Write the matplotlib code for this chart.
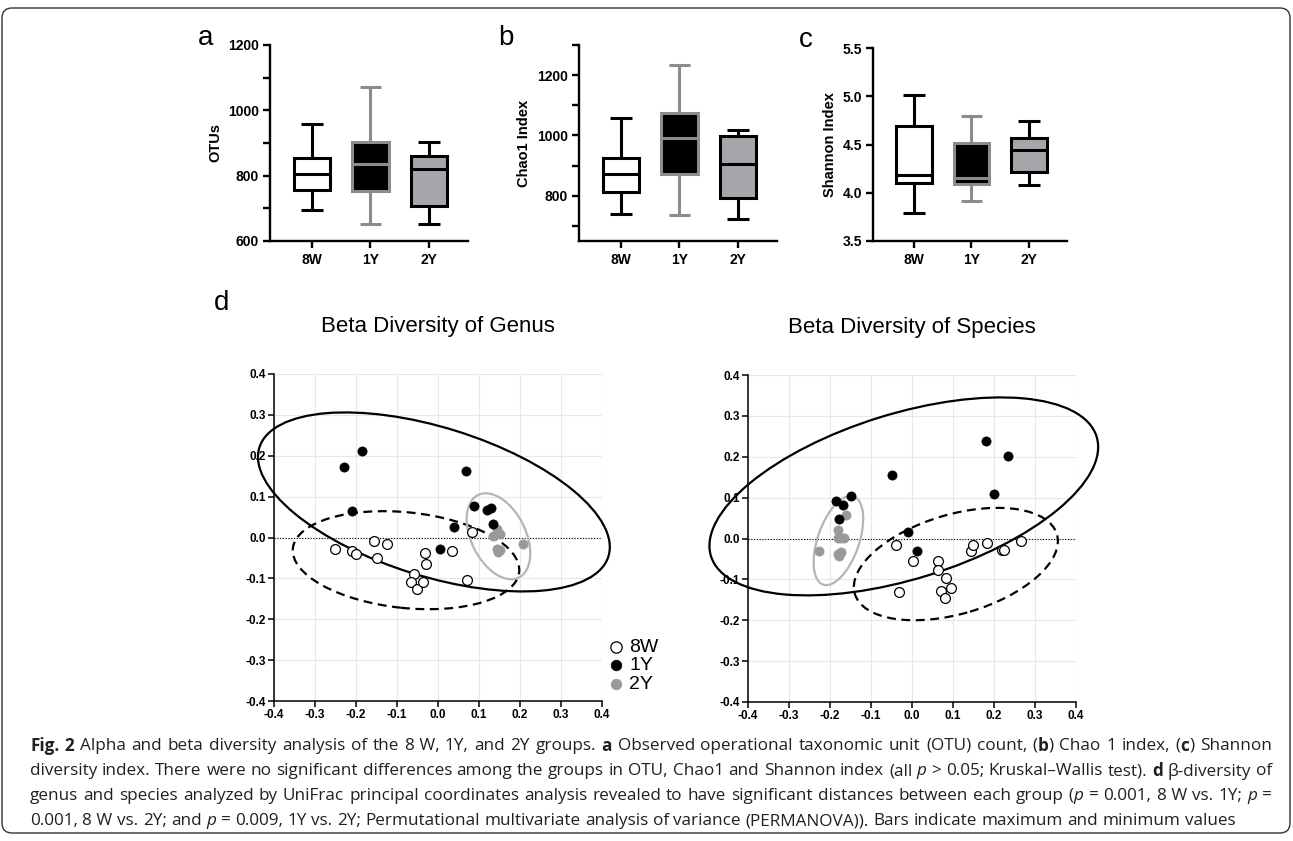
import matplotlib
matplotlib.use('Agg')
import matplotlib.pyplot as plt
from matplotlib.patches import Ellipse, FancyBboxPatch
from matplotlib.ticker import MultipleLocator, FixedLocator

W, H = 1293, 841
fig = plt.figure(figsize=(W / 100, H / 100), dpi=100)
plt.rcParams['font.family'] = ['Liberation Sans', 'DejaVu Sans']

# ---------------- data ----------------
groups = ['8W', '1Y', '2Y']

otu_min = [694, 653, 653]
otu_q1 = [757, 754, 708]
otu_med = [805, 837, 820]
otu_q3 = [854, 903, 859]
otu_max = [959, 1072, 902]

chao_min = [739, 737, 723]
chao_q1 = [811, 873, 792]
chao_med = [873, 992, 907]
chao_q3 = [926, 1075, 997]
chao_max = [1057, 1234, 1018]

sh_min = [3.79, 3.91, 4.08]
sh_q1 = [4.10, 4.09, 4.22]
sh_med = [4.18, 4.15, 4.44]
sh_q3 = [4.69, 4.52, 4.57]
sh_max = [5.01, 4.80, 4.74]

genus_8w_x = [-0.251, -0.209, -0.201, -0.156, -0.148, -0.124, -0.032, -0.029, 0.033, -0.059, -0.065, -0.051, -0.036, 0.070, 0.084]
genus_8w_y = [-0.029, -0.033, -0.041, -0.008, -0.051, -0.016, -0.038, -0.064, -0.033, -0.089, -0.110, -0.127, -0.110, -0.103, 0.014]
genus_1y_x = [-0.230, -0.185, -0.209, 0.068, 0.089, 0.119, 0.130, 0.133, 0.039, 0.006]
genus_1y_y = [0.173, 0.212, 0.064, 0.162, 0.078, 0.067, 0.073, 0.033, 0.025, -0.029]
genus_2y_x = [0.133, 0.143, 0.151, 0.143, 0.147, 0.208, 0.150]
genus_2y_y = [0.004, 0.022, 0.008, -0.028, -0.035, -0.016, -0.030]

species_8w_x = [-0.038, -0.032, 0.002, 0.064, 0.064, 0.084, 0.070, 0.081, 0.095, 0.143, 0.149, 0.182, 0.219, 0.225, 0.266]
species_8w_y = [-0.017, -0.131, -0.054, -0.056, -0.076, -0.097, -0.128, -0.145, -0.122, -0.030, -0.016, -0.010, -0.029, -0.027, -0.007]
species_1y_x = [-0.185, -0.169, -0.148, -0.178, -0.050, -0.009, 0.011, 0.180, 0.235, 0.201]
species_1y_y = [0.091, 0.083, 0.105, 0.047, 0.156, 0.016, -0.031, 0.238, 0.202, 0.109]
species_2y_x = [-0.227, -0.181, -0.160, -0.180, -0.173, -0.167, -0.181, -0.177, -0.173]
species_2y_y = [-0.030, 0.021, 0.058, 0.001, 0.001, 0.001, -0.037, -0.043, -0.034]

# confidence ellipses: (cx, cy, width, height, angle) for 8W, 1Y, 2Y
genus_ell_8w = [-0.078, -0.0555, 0.555, 0.234, -6.0]
genus_ell_1y = [-0.010, 0.087, 0.892, 0.364, -17.4]
genus_ell_2y = [0.1475, 0.003, 0.225, 0.133, -63.9]
species_ell_8w = [0.107, -0.0625, 0.514, 0.243, 16.5]
species_ell_1y = [-0.020, 0.103, 0.985, 0.404, 17.3]
species_ell_2y = [-0.1795, -0.005, 0.228, 0.101, 71.0]

pcoa_ticks = [-0.4, -0.3, -0.2, -0.1, 0.0, 0.1, 0.2, 0.3, 0.4]

caption_lines = [
    [("Fig. 2", 'b'), (" Alpha and beta diversity analysis of the 8\u00a0W, 1Y, and 2Y groups. ", 'n'), ("a", 'b'),
     (" Observed operational taxonomic unit (OTU) count, (", 'n'), ("b", 'b'), (") Chao 1 index, (", 'n'),
     ("c", 'b'), (") Shannon", 'n')],
    [("diversity index. There were no significant differences among the groups in OTU, Chao1 and Shannon index (all ", 'n'),
     ("p", 'i'), (" > 0.05; Kruskal\u2013Wallis test). ", 'n'), ("d", 'b'), (" \u03b2-diversity of", 'n')],
    [("genus and species analyzed by UniFrac principal coordinates analysis revealed to have significant distances between each group (", 'n'),
     ("p", 'i'), (" = 0.001, 8\u00a0W vs. 1Y; ", 'n'), ("p", 'i'), (" =", 'n')],
    [("0.001, 8\u00a0W vs. 2Y; and ", 'n'), ("p", 'i'), (" = 0.009, 1Y vs. 2Y; Permutational multivariate analysis of variance (PERMANOVA)). Bars indicate maximum and minimum values", 'n')],
]


def px_axes(x0, y0, x1, y1):
    return fig.add_axes([x0 / W, 1 - y1 / H, (x1 - x0) / W, (y1 - y0) / H])


GRAY_EDGE = '#8c8c8c'
GRAY_FILL = '#a6a6aa'
box_face = ['white', 'black', GRAY_FILL]
box_edge = ['black', GRAY_EDGE, 'black']
BLW = 2.2


def boxpanel(ax, mins, q1s, meds, q3s, maxs, ylabel):
    stats = []
    for g, lo, a, m, b, hi in zip(groups, mins, q1s, meds, q3s, maxs):
        stats.append(dict(label=g, whislo=lo, q1=a, med=m, q3=b, whishi=hi))
    art = ax.bxp(stats, positions=[1, 2, 3], widths=0.62, capwidths=0.37,
                 patch_artist=True, showfliers=False)
    for i in range(3):
        art['boxes'][i].set(facecolor=box_face[i], edgecolor=box_edge[i], linewidth=BLW)
        art['medians'][i].set(color=box_edge[i], linewidth=BLW)
        for j in (2 * i, 2 * i + 1):
            art['whiskers'][j].set(color=box_edge[i], linewidth=BLW, solid_capstyle='butt')
            art['caps'][j].set(color=box_edge[i], linewidth=BLW, solid_capstyle='butt')
    ax.set_xlim(0.29, 3.66)
    for s in ('top', 'right'):
        ax.spines[s].set_visible(False)
    for s in ('left', 'bottom'):
        ax.spines[s].set_linewidth(1.7)
    ax.tick_params(which='both', direction='out', length=5, width=1.7)
    ax.tick_params(axis='y', labelsize=10, pad=3)
    for lab in ax.get_yticklabels():
        lab.set_fontweight('bold')
    ax.set_xticks([1, 2, 3])
    ax.set_xticklabels(groups, fontsize=10, fontweight='bold',
                       family=['Liberation Sans Narrow', 'Liberation Sans'])
    ax.set_ylabel(ylabel, fontsize=10.5, fontweight='bold', labelpad=4)


# panel a
axa = px_axes(270, 45, 468, 241)
axa.set_ylim(600, 1200)
axa.yaxis.set_major_locator(MultipleLocator(200))
axa.yaxis.set_minor_locator(MultipleLocator(100))
boxpanel(axa, otu_min, otu_q1, otu_med, otu_q3, otu_max, 'OTUs')

# panel b
axb = px_axes(579, 45, 777, 241)
axb.set_ylim(650, 1300)
axb.yaxis.set_major_locator(FixedLocator([800, 1000, 1200]))
axb.yaxis.set_minor_locator(FixedLocator([700, 900, 1100, 1300]))
boxpanel(axb, chao_min, chao_q1, chao_med, chao_q3, chao_max, 'Chao1 Index')

# panel c
axc = px_axes(873, 48, 1067, 241)
axc.set_ylim(3.5, 5.5)
axc.yaxis.set_major_locator(MultipleLocator(0.5))
axc.yaxis.set_major_formatter(matplotlib.ticker.FormatStrFormatter('%.1f'))
boxpanel(axc, sh_min, sh_q1, sh_med, sh_q3, sh_max, 'Shannon Index')

for lbl, x, y in (('a', 206, 38), ('b', 506, 38), ('c', 806, 40), ('d', 222, 303)):
    fig.text(x / W, 1 - y / H, lbl, fontsize=20, ha='center', va='center')


# ---------------- PCoA panels ----------------
def pcoa(ax, title, d8x, d8y, d1x, d1y, d2x, d2y, e8, e1, e2):
    ax.set_xlim(-0.4, 0.4)
    ax.set_ylim(-0.4, 0.4)
    ax.set_xticks(pcoa_ticks)
    ax.set_yticks(pcoa_ticks)
    ax.set_xticklabels([f'{t:.1f}' for t in pcoa_ticks])
    ax.set_yticklabels([f'{t:.1f}' for t in pcoa_ticks])
    ax.grid(True, color='#e8e8e8', linewidth=0.8, zorder=0)
    ax.set_axisbelow(True)
    for s in ('top', 'right'):
        ax.spines[s].set_visible(False)
    for s in ('left', 'bottom'):
        ax.spines[s].set_linewidth(1.1)
    ax.tick_params(direction='out', length=4, width=1.1, labelsize=8.5, pad=2)
    for lab in ax.get_xticklabels() + ax.get_yticklabels():
        lab.set_fontweight('bold')
    ax.axhline(0, color='black', linestyle=(0, (1, 1.5)), linewidth=0.8, zorder=1)
    ells = [(e8, 'black', (0, (4, 2.5))), (e1, 'black', '-'), (e2, '#b5b5b5', '-')]
    for e, c, ls in ells:
        el = Ellipse((e[0], e[1]), e[2], e[3], angle=e[4], fill=False, edgecolor=c,
                     linewidth=1.6, linestyle=ls, clip_on=False, zorder=2)
        ax.add_patch(el)
    h8 = ax.scatter(d8x, d8y, s=50, facecolor='white', edgecolor='black', linewidth=0.9, zorder=4, label='8W', clip_on=False)
    h1 = ax.scatter(d1x, d1y, s=44, facecolor='black', edgecolor='black', linewidth=0.5, zorder=4, label='1Y', clip_on=False)
    h2 = ax.scatter(d2x, d2y, s=44, facecolor='#999999', edgecolor='#999999', linewidth=0.5, zorder=3, label='2Y', clip_on=False)
    ax.set_title(title, fontsize=16, pad=30)
    return h8, h1, h2


axg = px_axes(274, 374, 602, 701)
handles = pcoa(axg, 'Beta Diversity of Genus', genus_8w_x, genus_8w_y, genus_1y_x, genus_1y_y,
               genus_2y_x, genus_2y_y, genus_ell_8w, genus_ell_1y, genus_ell_2y)
axs = px_axes(748, 375, 1076, 702)
pcoa(axs, 'Beta Diversity of Species', species_8w_x, species_8w_y, species_1y_x, species_1y_y,
     species_2y_x, species_2y_y, species_ell_8w, species_ell_1y, species_ell_2y)

fig.legend(handles=list(handles), labels=groups, loc='upper left',
           bbox_to_anchor=(604 / W, 1 - 638 / H), frameon=False, fontsize=14,
           handletextpad=0.1, labelspacing=0.05, handlelength=1.2, borderaxespad=0,
           borderpad=0, markerscale=1.15)

# ---------------- frame ----------------
frame = FancyBboxPatch((2 / 100, (H - 833) / 100), 1288 / 100, 825 / 100,
                       boxstyle='round,pad=0,rounding_size=0.1', transform=fig.dpi_scale_trans,
                       facecolor='none', edgecolor='#333333', linewidth=1.0)
fig.patches.append(frame)

# ---------------- caption (justified rich text) ----------------
renderer = fig.canvas.get_renderer()
cap_left, cap_right = 30, 1272
line_y = [746, 771, 796, 821]
CAPFAM = ['Open Sans', 'DejaVu Sans']


def style_kw(st, size):
    kw = dict(fontsize=size, family=CAPFAM, color='#231f20')
    if st == 'b':
        kw['fontweight'] = 'bold'
    if st == 'i':
        kw['fontstyle'] = 'italic'
    return kw


def words_of(runs):
    words = [[]]
    for txt, st in runs:
        parts = txt.split(' ')
        for i, p in enumerate(parts):
            if i > 0:
                words.append([])
            if p:
                words[-1].append((p, st))
    return [w for w in words if w]


def measure(s, st, size):
    t = fig.text(0, 0, s, **style_kw(st, size))
    w = t.get_window_extent(renderer).width
    t.remove()
    return w


base = 11.0
space_w = measure('a a', 'n', base) - 2 * measure('a', 'n', base)
nat = []
for runs in caption_lines:
    ws = words_of(runs)
    tot = sum(measure(p, st, base) for w in ws for p, st in w) + space_w * (len(ws) - 1)
    nat.append(tot)
size = base * (cap_right - cap_left) / max(nat[:3]) * 0.995

space_w = measure('a a', 'n', size) - 2 * measure('a', 'n', size)
for li, runs in enumerate(caption_lines):
    ws = words_of(runs)
    widths = [[measure(p, st, size) for p, st in w] for w in ws]
    total = sum(sum(w) for w in widths)
    if li < 3:
        gap = (cap_right - cap_left - total) / (len(ws) - 1)
    else:
        gap = space_w
    x = cap_left
    y = 1 - line_y[li] / H
    for w, wd in zip(ws, widths):
        for (p, st), pw in zip(w, wd):
            fig.text(x / W, y, p, va='center', ha='left', **style_kw(st, size))
            x += pw
        x += gap

fig.savefig('out.png', dpi=100)
